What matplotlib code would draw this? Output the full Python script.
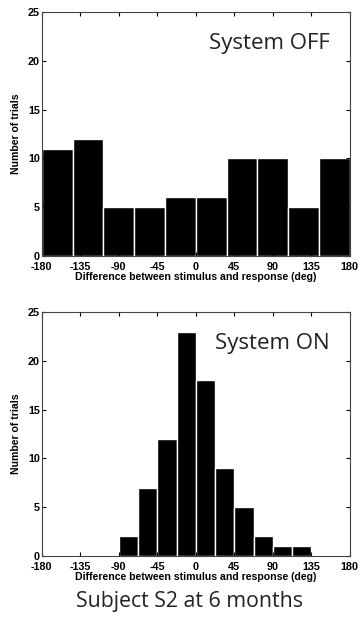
import numpy as np
import matplotlib
matplotlib.use("Agg")
import matplotlib.pyplot as plt

# histogram counts
off_edges = np.linspace(-180, 180, 11)          # 10 bins, 36 deg wide
off_counts = [11, 12, 5, 5, 6, 6, 10, 10, 5, 10]

on_edges = np.linspace(-180, 180, 17)           # 16 bins, 22.5 deg wide
on_counts = [0, 0, 0, 0, 2, 7, 12, 23, 18, 9, 5, 2, 1, 1, 0, 0]

xticks = [-180, -135, -90, -45, 0, 45, 90, 135, 180]
yticks = [0, 5, 10, 15, 20, 25]

tick_font = dict(family="Liberation Sans", size=7.8, weight="bold")
label_font = dict(family="Liberation Sans", size=7.6, weight="bold")


def draw_hist(ax, edges, counts, title):
    ax.bar(edges[:-1], counts, width=np.diff(edges), align="edge",
           color="black", edgecolor="white", linewidth=1.0)
    ax.set_xlim(-180, 180)
    ax.set_ylim(0, 25)
    ax.set_xticks(xticks)
    ax.set_yticks(yticks)
    ax.set_xticklabels([str(t) for t in xticks], **tick_font)
    ax.set_yticklabels([str(t) for t in yticks], **tick_font)
    ax.tick_params(direction="in", top=True, right=True, length=3, width=0.8)
    ax.tick_params(axis="x", pad=4.5)
    ax.tick_params(axis="y", pad=1.5)
    for s in ax.spines.values():
        s.set_linewidth(0.8)
        s.set_color("#444444")
    ax.set_xlabel("Difference between stimulus and response (deg)", labelpad=0, **label_font)
    ax.set_ylabel("Number of trials", labelpad=5, **label_font)
    ax.text(0.935, 0.87, title, transform=ax.transAxes, ha="right", va="center",
            family="Open Sans", fontsize=16, color="#222222")


fig = plt.figure(figsize=(3.64, 6.22), dpi=100)
ax1 = fig.add_axes([0.115, 0.5884, 0.846, 0.3923])
ax2 = fig.add_axes([0.115, 0.1061, 0.846, 0.3923])

draw_hist(ax1, off_edges, off_counts, "System OFF")
draw_hist(ax2, on_edges, on_counts, "System ON")

fig.text(0.52, 0.0335, "Subject S2 at 6 months", ha="center", va="center",
         family="Open Sans", fontsize=15.3, color="#222222")

fig.savefig("out.png", dpi=100)
